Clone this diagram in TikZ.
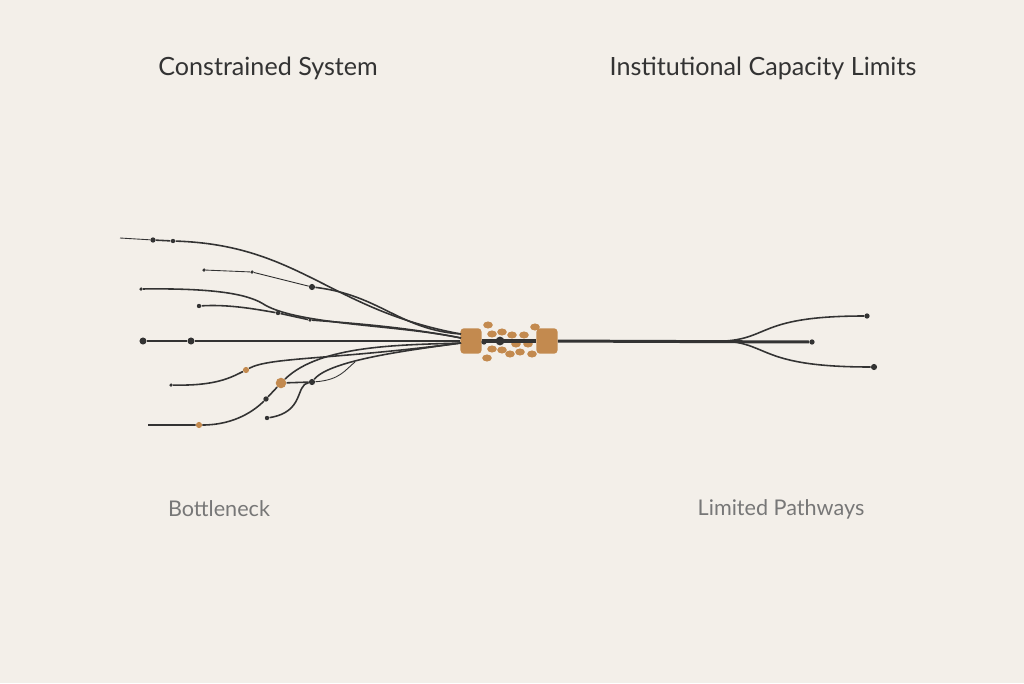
\documentclass[tikz,border=0pt]{standalone}
\usepackage{fontspec}
\setmainfont{Lato}
\usetikzlibrary{shapes.geometric}
\definecolor{bg}{HTML}{F3EFE9}
\definecolor{ink}{HTML}{333333}
\definecolor{ochre}{HTML}{C38A4F}
\definecolor{note}{HTML}{777777}
\begin{document}
\begin{tikzpicture}[x=0.02cm,y=-0.02cm,
        dot/.style={circle, fill=ink, inner sep=0pt, minimum size=#1},
        dot/.default=3pt,
        odot/.style={circle, fill=ochre, inner sep=0pt, minimum size=#1},
        odot/.default=3.5pt,
        pill/.style={ellipse, fill=ochre, inner sep=0pt, minimum width=5.5pt, minimum height=4pt},
        gate/.style={rectangle, rounded corners=2pt, fill=ochre, minimum width=12pt, minimum height=14.5pt, inner sep=0pt},
        line/.style={ink, line width=0.9pt},
        thin/.style={ink, line width=0.5pt},
        title/.style={text=ink, font=\fontsize{14.3}{16}\selectfont},
        label/.style={text=note, font=\fontsize{12.3}{14}\selectfont},
    ]
    \fill[bg] (0,0) rectangle (1024,683);

    % Titles
    \node[title] (sys) at (268,68) {Constrained System};
    \node[title] (inst) at (763,68) {Institutional Capacity Limits};
    \node[label] (neck) at (219,509) {Bottleneck};
    \node[label] (paths) at (781,509) {Limited Pathways};

    % Bottleneck
    \node[gate] (gl) at (471,341) {};
    \node[gate] (gr) at (547,341) {};
    \node[dot=5pt] (core) at (500,341) {};
    \node[dot=3pt] (corel) at (484,342) {};
    \foreach \x/\y [count=\i] in {488/325,492/334,502/332,512/335,524/335,535/327,
            516/344,528/344,492/349,502/350,510/354,520/352,532/354,487/358}
        \node[pill] (p\i) at (\x,\y) {};
    \coordinate (hub) at (461,338);
    \coordinate (hubt) at (461,334);
    \coordinate (hubb) at (461,343);

    % Left nodes
    \coordinate (a0) at (120,238);
    \node[dot] (a1) at (153,240) {};
    \node[dot=2.5pt] (a2) at (173,241) {};
    \node[dot=2pt] (b1) at (204,270) {};
    \node[dot=2pt] (b2) at (252,272) {};
    \node[dot=3.5pt] (x) at (312,287) {};
    \node[dot=2pt] (c1) at (141,289) {};
    \node[dot=2.5pt] (d1) at (199,306) {};
    \node[dot=2.5pt] (d2) at (278,313) {};
    \node[dot=2pt] (d3) at (310,320) {};
    \node[dot=4pt] (m1) at (143,341) {};
    \node[dot=4pt] (m2) at (191,341) {};
    \node[dot=2pt] (e1) at (171,385) {};
    \node[odot] (e2) at (246,370) {};
    \coordinate (f0) at (148,425);
    \node[odot] (f1) at (199,425) {};
    \node[dot=3pt] (f2) at (266,399) {};
    \node[odot=6pt] (f3) at (281,383) {};
    \node[dot=3.5pt] (y) at (312,382) {};
    \node[dot=2.5pt] (g1) at (267,418) {};

    % Left connectors
    \draw[thin] (a0) -- (a1);
    \draw[line] (a1) -- (a2) .. controls (300,245) and (330,310) .. (hubt);
    \draw[thin] (b1) -- (b2) -- (x);
    \draw[line] (x) .. controls (380,295) and (400,330) .. (hubt);
    \draw[line] (c1) .. controls (220,288) and (250,295) .. (265,305) .. controls (300,325) and (400,325) .. (hub);
    \draw[line] (d1) .. controls (230,304) and (260,310) .. (d2) -- (d3) .. controls (380,325) and (420,330) .. (hub);
    \draw[ink, line width=1.5pt] (m1) -- (m2) -- (gl);
    \draw[line] (e1) .. controls (215,386) and (230,378) .. (e2) .. controls (270,357) and (330,360) .. (hubb);
    \draw[line] (f0) -- (f1) .. controls (235,425) and (255,410) .. (f2) -- (f3) .. controls (320,345) and (400,345) .. (hubb);
    \draw[line] (f3) -- (y);
    \draw[thin] (y) .. controls (340,380) and (345,370) .. (355,362);
    \draw[line] (g1) .. controls (305,412) and (295,385) .. (y) .. controls (330,360) and (410,350) .. (hubb);

    % Right side
    \draw[ink, line width=1.8pt] (gl) -- (gr);
    \node[dot=3pt] (r0) at (812,342) {};
    \node[dot=3pt] (r1) at (867,316) {};
    \node[dot=3.5pt] (r2) at (874,367) {};
    \coordinate (split) at (725,341);
    \draw[ink, line width=1.7pt] (gr) -- (r0);
    \draw[line] (split) .. controls (770,338) and (760,316) .. (r1);
    \draw[line] (split) .. controls (770,344) and (760,367) .. (r2);
\end{tikzpicture}
\end{document}
